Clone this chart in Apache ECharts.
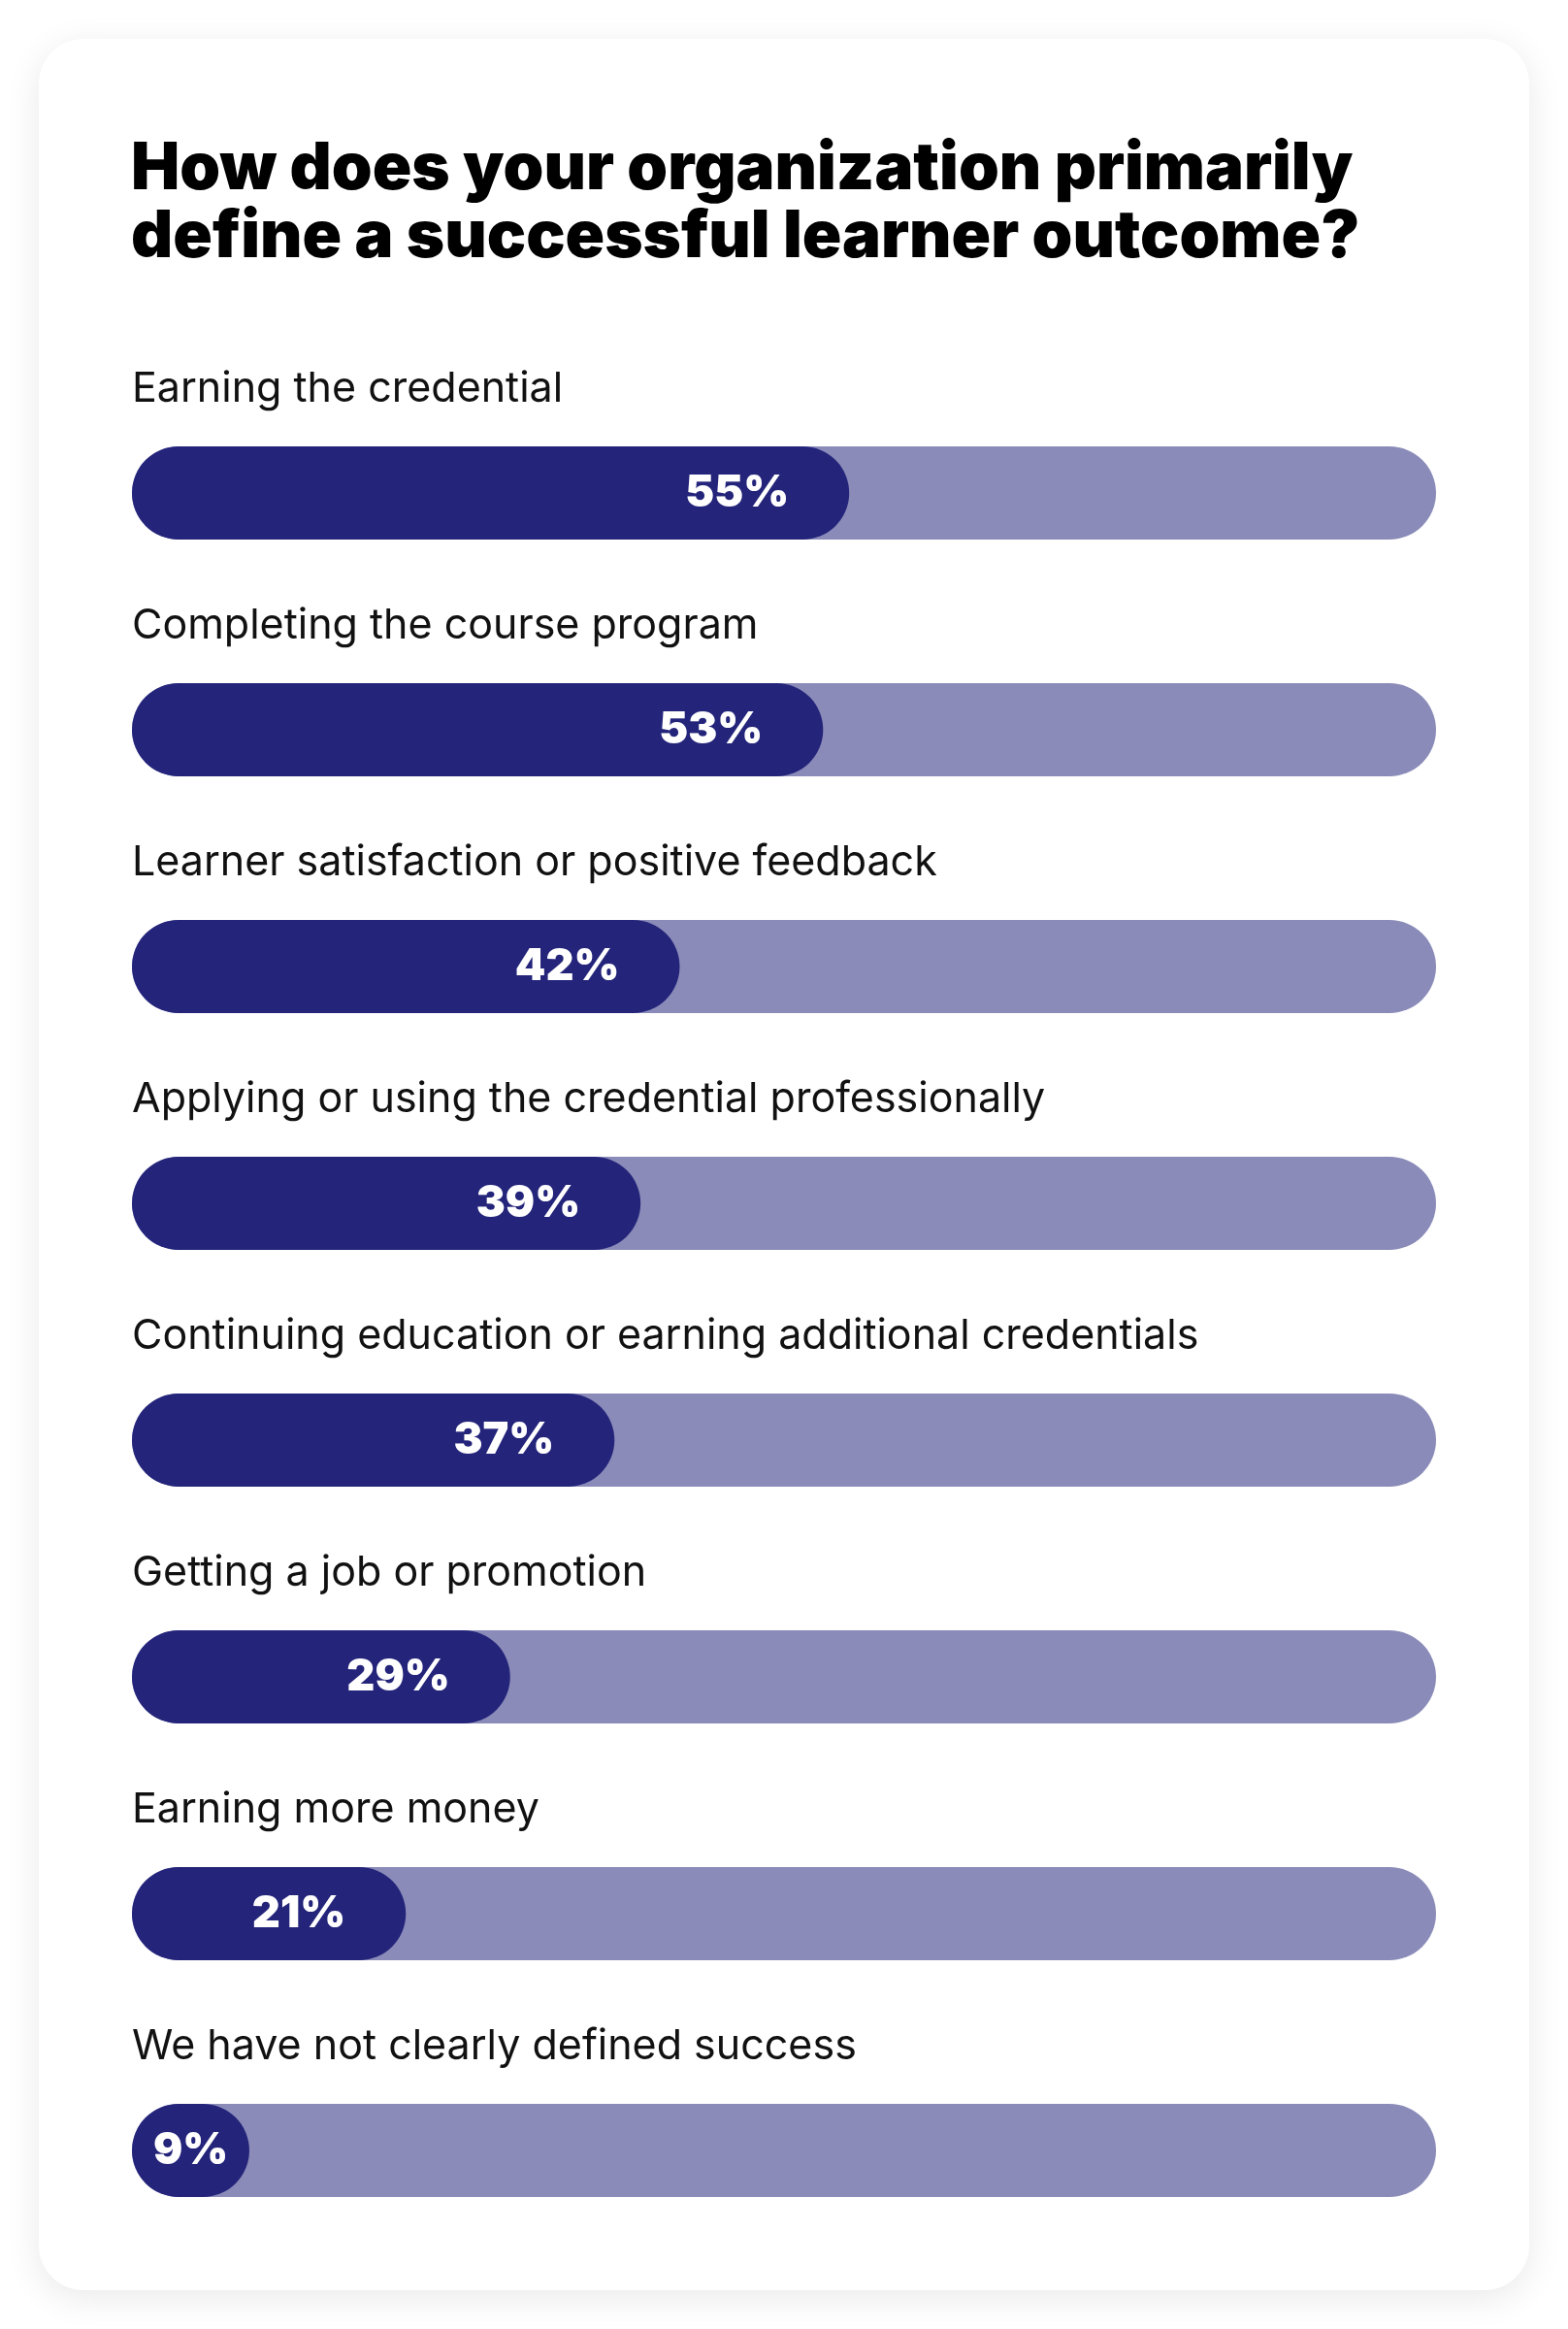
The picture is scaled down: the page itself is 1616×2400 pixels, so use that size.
<!DOCTYPE html>
<html>
<head>
<meta charset="utf-8">
<script src="https://cdn.jsdelivr.net/npm/echarts@6/dist/echarts.min.js"></script>
<style>
  body { margin: 0; background: #ffffff; }
  #card {
    position: absolute; left: 40px; top: 40px; width: 1536px; height: 2320px;
    background: #ffffff; border-radius: 46px;
    box-shadow: 0 8px 36px rgba(0, 0, 0, 0.09);
  }
  #chart { position: absolute; left: 0; top: 0; width: 1616px; height: 2400px; }
</style>
</head>
<body>
<div id="card"></div>
<div id="chart"></div>
<script>
// survey answers, top to bottom
var categories = [
  'Earning the credential',
  'Completing the course program',
  'Learner satisfaction or positive feedback',
  'Applying or using the credential professionally',
  'Continuing education or earning additional credentials',
  'Getting a job or promotion',
  'Earning more money',
  'We have not clearly defined success'
];
var values = [55, 53, 42, 39, 37, 29, 21, 9];
var fullScale = [100, 100, 100, 100, 100, 100, 100, 100];

var titleText = 'How does your organization primarily\ndefine a successful learner outcome?';

var chart = echarts.init(document.getElementById('chart'));

// small bars can't hold the label on the right, put it on the left
var valueData = values.map(function (v) {
  if (v < 15) {
    return { value: v, label: { position: 'insideLeft', distance: 22 } };
  }
  return v;
});

var option = {
  backgroundColor: 'transparent',
  title: {
    text: titleText,
    left: 130,
    top: 135,
    textStyle: {
      fontFamily: 'Inter',
      fontSize: 67,
      fontWeight: 900,
      lineHeight: 70,
      color: '#000000'
    }
  },
  grid: {
    left: 136,
    right: 136,
    top: 386,
    height: 1952
  },
  xAxis: {
    type: 'value',
    min: 0,
    max: 100,
    show: false
  },
  yAxis: {
    type: 'category',
    data: categories,
    inverse: true,
    show: false
  },
  series: [
    {
      name: 'total',
      type: 'bar',
      data: fullScale,
      barWidth: 96,
      silent: true,
      itemStyle: { color: '#8a8bb8', borderRadius: 48 },
      label: {
        show: true,
        position: [0, -37],
        verticalAlign: 'bottom',
        formatter: '{b}',
        fontFamily: 'Inter',
        fontSize: 43,
        color: '#111111'
      }
    },
    {
      name: 'share',
      type: 'bar',
      data: valueData,
      barWidth: 96,
      barGap: '-100%',
      silent: true,
      itemStyle: { color: '#23247a', borderRadius: 48 },
      label: {
        show: true,
        position: 'insideRight',
        distance: 62,
        formatter: '{c}%',
        fontFamily: 'Inter',
        fontSize: 45,
        fontWeight: 900,
        color: '#ffffff'
      }
    }
  ],
  animation: false
};

chart.setOption(option);
</script>
</body>
</html>
